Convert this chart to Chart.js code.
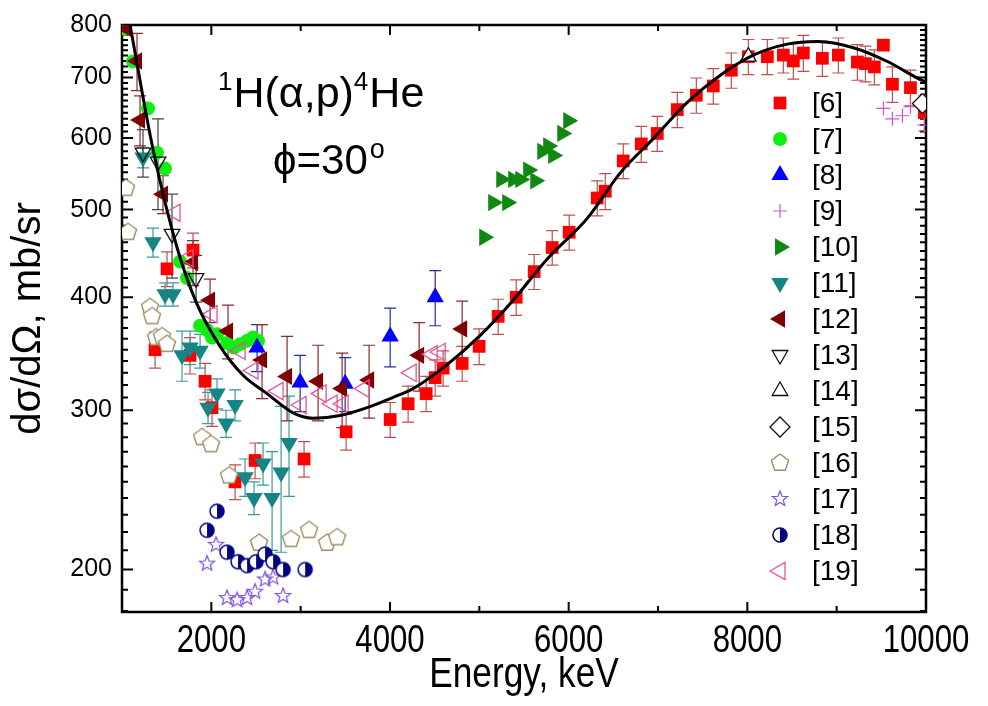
<!DOCTYPE html>
<html>
<head>
<meta charset="utf-8">
<script src="https://cdn.jsdelivr.net/npm/chart.js@4.4.0/dist/chart.umd.min.js"></script>
<style>
html, body { margin: 0; padding: 0; background: #fff; }
</style>
</head>
<body>
<canvas id="myChart" width="988" height="706"></canvas>
<script>
const ctx = document.getElementById('myChart')

// [6]
const x6 = [1370, 1504, 1762, 1795, 1930, 2008, 2266, 2490, 3038, 3509, 4002, 4203, 4405, 4506, 4595, 4808, 4998, 5211, 5413, 5614, 5816, 6006, 6320, 6410, 6611, 6813, 6992, 7216, 7429, 7619, 7821, 8011, 8224, 8403, 8515, 8627, 8840, 9019, 9232, 9322, 9422, 9523, 9624, 9826, 9982]
const y6 = [350, 430, 345, 451, 323, 302, 250, 264, 265, 284, 293, 305, 313, 326, 334, 338, 353, 381, 400, 427, 454, 472, 515, 524, 566, 591, 607, 645, 669, 685, 713, 738, 738, 741, 730, 745, 735, 741, 728, 725, 719, 760, 688, 682, 640]
const e6 = [16, 19, 16, 20, 15, 14, 11, 12, 12, 13, 13, 14, 14, 15, 15, 15, 16, 17, 18, 19, 20, 21, 23, 24, 25, 27, 27, 29, 30, 31, 32, 33, 33, 33, 33, 34, 33, 33, 33, 33, 32, 0, 31, 31, 29]
// [7]
const x7 = [1034, 1123, 1291, 1392, 1482, 1650, 1728, 1874, 1952, 2008, 2064, 2176, 2254, 2322, 2400, 2467, 2523]
const y7 = [792, 729, 647, 578, 555, 438, 420, 372, 368, 361, 364, 356, 352, 355, 358, 361, 358]
// [8]
const x8 = [2512, 2994, 3498, 4002, 4506]
const y8 = [352, 322, 321, 362, 400]
const e8 = [21, 23, 22, 27, 28]
// [9]
const x9 = [9523, 9624, 9736, 9826, 9982]
const y9 = [647, 630, 635, 650, 620]
// [10]
const x10 = [5054, 5155, 5245, 5312, 5379, 5458, 5547, 5626, 5704, 5771, 5827, 5928, 5995]
const y10 = [466, 509, 540, 509, 540, 540, 553, 538, 580, 588, 574, 607, 627]
// [11]
const x11 = [1235, 1347, 1482, 1571, 1672, 1762, 1874, 1963, 2064, 2165, 2266, 2378, 2478, 2579, 2680, 2781, 2870]
const y11 = [571, 460, 403, 403, 345, 352, 349, 302, 313, 290, 304, 253, 240, 262, 240, 256, 276]
const e11 = [15, 17, 12, 12, 22, 15, 15, 12, 12, 10, 12, 12, 10, 14, 30, 47, 35]
// [12]
const x12 = [1056, 1168, 1202, 1459, 1795, 1986, 2187, 2568, 2848, 3195, 3464, 3766, 4326, 4808]
const y12 = [792, 730, 628, 520, 437, 397, 367, 341, 327, 323, 317, 324, 345, 369]
const e12 = [0, 53, 40, 25, 25, 22, 25, 32, 35, 31, 30, 30, 30, 27]
// [13]
const x13 = [1235, 1403, 1560, 1829]
const y13 = [578, 565, 470, 420]
const e13 = [35, 65, 50, 25]
// [14]
const x14 = [8011]
const y14 = [738]
// [15]
const x15 = [9960]
const y15 = [655]
// [16]
const x16 = [1045, 1067, 1314, 1336, 1381, 1448, 1504, 1896, 1997, 2198, 2534, 2893, 3094, 3296, 3408]
const y16 = [528, 472, 390, 381, 361, 362, 355, 280, 275, 254, 214, 216, 221, 214, 217]
// [17]
const x17 = [1952, 2053, 2176, 2288, 2400, 2490, 2602, 2691, 2803]
const y17 = [203, 213, 186, 185, 186, 189, 195, 196, 187]
// [18]
const x18 = [1952, 2064, 2176, 2299, 2400, 2501, 2602, 2691, 2803, 3050]
const y18 = [221, 232, 209, 204, 202, 204, 208, 204, 200, 200]
// [19]
const x19 = [1594, 1739, 2008, 2322, 2467, 2747, 3005, 3229, 3352, 3475, 3710, 4237, 4472, 4562]
const y19 = [496, 442, 383, 349, 332, 315, 304, 313, 305, 305, 317, 330, 346, 348]
// fitted curve
const curveX = [1050, 1090, 1347, 1616, 1840, 2098, 2355, 2624, 2915, 3139, 3442, 3744, 4035, 4259, 4640, 5010, 5379, 5760, 6208, 6578, 6947, 7328, 7698, 8067, 8448, 8784, 9187, 9568, 9938, 10000]
const curveY = [840, 800, 583, 454, 393, 353, 328, 313, 298, 294, 296, 302, 310, 317, 337, 363, 397, 441, 489, 549, 599, 657, 704, 741, 762, 767, 755, 729, 696, 692]

const xTicks = [2000, 4000, 6000, 8000, 10000]
const xMinor = [3000, 5000, 7000, 9000]
const yTicks = [200, 300, 400, 500, 600, 700, 800]
const xTitle = 'Energy, keV'
const yTitle = 'd\u03c3/d\u03a9, mb/sr'
const reaction = ['1', 'H(\u03b1,p)', '4', 'He']
const angle = ['\u03d5=30', 'o']

const sans = "'Liberation Sans', Arial, sans-serif"

function pts(xs, ys) {
    return xs.map((v, i) => ({x: v, y: ys[i]}))
}

function glyph(size, draw) {
    const c = document.createElement('canvas')
    c.width = size
    c.height = size
    draw(c.getContext('2d'), size / 2)
    return c
}

const pentagon = glyph(24, (g, c) => {
    g.beginPath()
    for (let k = 0; k < 5; k++) {
        const a = -Math.PI / 2 + k * 2 * Math.PI / 5
        g.lineTo(c + 9 * Math.cos(a), c + 9 * Math.sin(a))
    }
    g.closePath()
    g.fillStyle = '#fff'
    g.fill()
    g.strokeStyle = '#9c9060'
    g.lineWidth = 1.4
    g.stroke()
})

const star = glyph(22, (g, c) => {
    g.beginPath()
    for (let k = 0; k < 10; k++) {
        const a = -Math.PI / 2 + k * Math.PI / 5
        const r = k % 2 ? 3.4 : 8
        g.lineTo(c + r * Math.cos(a), c + r * Math.sin(a))
    }
    g.closePath()
    g.strokeStyle = '#7f4fe0'
    g.lineWidth = 1.2
    g.stroke()
})

const halfCircle = glyph(20, (g, c) => {
    g.beginPath()
    g.arc(c, c, 7, 0, 2 * Math.PI)
    g.fillStyle = '#fff'
    g.fill()
    g.beginPath()
    g.arc(c, c, 7, -Math.PI / 2, Math.PI / 2)
    g.closePath()
    g.fillStyle = '#000080'
    g.fill()
    g.beginPath()
    g.arc(c, c, 7, 0, 2 * Math.PI)
    g.strokeStyle = '#000080'
    g.lineWidth = 1.5
    g.stroke()
})

function series(label, xs, ys, style) {
    return Object.assign({
        label: label,
        data: pts(xs, ys),
        showLine: false,
        pointRotation: 0,
        pointBorderWidth: 0
    }, style)
}

const datasets = [
    series('[6]', x6, y6, {errors: e6, errorColor: '#c0504d', pointStyle: 'rect', pointRadius: 9, pointBackgroundColor: '#ff0000', pointBorderColor: '#ff0000'}),
    series('[7]', x7, y7, {pointStyle: 'circle', pointRadius: 7, pointBackgroundColor: '#11ee11', pointBorderColor: '#11ee11'}),
    series('[8]', x8, y8, {errors: e8, errorColor: '#1f2f9f', pointStyle: 'triangle', pointRadius: 10, pointBackgroundColor: '#0000ff', pointBorderColor: '#0000ff'}),
    series('[9]', x9, y9, {pointStyle: 'cross', pointRadius: 7, pointBackgroundColor: '#cc55cc', pointBorderColor: '#cc55cc', pointBorderWidth: 1.2}),
    series('[10]', x10, y10, {pointStyle: 'triangle', pointRotation: 90, pointRadius: 10, pointBackgroundColor: '#118811', pointBorderColor: '#118811'}),
    series('[11]', x11, y11, {errors: e11, errorColor: '#3a9a9a', pointStyle: 'triangle', pointRotation: 180, pointRadius: 10, pointBackgroundColor: '#168585', pointBorderColor: '#168585'}),
    series('[12]', x12, y12, {errors: e12, errorColor: '#8b2a2a', pointStyle: 'triangle', pointRotation: 270, pointRadius: 10, pointBackgroundColor: '#800000', pointBorderColor: '#800000'}),
    series('[13]', x13, y13, {errors: e13, errorColor: '#444', pointStyle: 'triangle', pointRotation: 180, pointRadius: 9, pointBackgroundColor: 'rgba(255,255,255,0)', pointBorderColor: '#111', pointBorderWidth: 1.3}),
    series('[14]', x14, y14, {pointStyle: 'triangle', pointRadius: 9, pointBackgroundColor: '#fff', pointBorderColor: '#111', pointBorderWidth: 1.3}),
    series('[15]', x15, y15, {pointStyle: 'rectRot', pointRadius: 10, pointBackgroundColor: '#fff', pointBorderColor: '#111', pointBorderWidth: 1.3}),
    series('[16]', x16, y16, {pointStyle: pentagon, pointRadius: 9}),
    series('[17]', x17, y17, {pointStyle: star, pointRadius: 8}),
    series('[18]', x18, y18, {pointStyle: halfCircle, pointRadius: 7}),
    series('[19]', x19, y19, {pointStyle: 'triangle', pointRotation: 270, pointRadius: 10, pointBackgroundColor: 'rgba(255,255,255,0)', pointBorderColor: '#e0559b', pointBorderWidth: 1.3})
]
// later series are drawn above earlier ones
datasets.forEach((d, i) => { d.order = datasets.length - i })

datasets.push({
    type: 'line',
    label: 'fit',
    data: pts(curveX, curveY),
    borderColor: '#000',
    borderWidth: 3,
    pointRadius: 0,
    fill: false,
    cubicInterpolationMode: 'monotone',
    order: 0
})

const frame = {
    id: 'frame',
    beforeDatasetsDraw(chart) {
        const {ctx, chartArea: a, scales: {x, y}} = chart
        ctx.save()
        ctx.strokeStyle = '#000'
        ctx.lineWidth = 2
        ctx.beginPath()
        const tick = (px, len) => {
            ctx.moveTo(px, a.bottom); ctx.lineTo(px, a.bottom - len)
            ctx.moveTo(px, a.top); ctx.lineTo(px, a.top + len)
        }
        xTicks.forEach(v => tick(x.getPixelForValue(v), 10))
        xMinor.forEach(v => tick(x.getPixelForValue(v), 6))
        const ytick = (py, len) => {
            ctx.moveTo(a.left, py); ctx.lineTo(a.left + len, py)
            ctx.moveTo(a.right, py); ctx.lineTo(a.right - len, py)
        }
        for (let v = 180; v < 800; v += 10) {
            ytick(y.getPixelForValue(v), v % 100 === 0 ? 11 : 6)
        }
        ctx.stroke()
        ctx.lineWidth = 2.5
        ctx.strokeRect(a.left, a.top, a.right - a.left, a.bottom - a.top)

        // x tick labels and title, set in a condensed face
        ctx.fillStyle = '#000'
        ctx.textAlign = 'center'
        ctx.textBaseline = 'alphabetic'
        ctx.font = '38px ' + sans
        xTicks.forEach(v => {
            ctx.save()
            ctx.translate(x.getPixelForValue(v), 652)
            ctx.scale(0.82, 1)
            ctx.fillText(String(v), 0, 0)
            ctx.restore()
        })
        ctx.save()
        ctx.font = '42px ' + sans
        ctx.translate((a.left + a.right) / 2, 687)
        ctx.scale(0.84, 1)
        ctx.fillText(xTitle, 0, 0)
        ctx.restore()

        // error bars
        ctx.beginPath()
        ctx.rect(a.left, a.top, a.right - a.left, a.bottom - a.top)
        ctx.clip()
        ctx.lineWidth = 1.2
        chart.data.datasets.forEach(ds => {
            if (!ds.errors) return
            ctx.strokeStyle = ds.errorColor
            ctx.beginPath()
            ds.data.forEach((p, i) => {
                const e = ds.errors[i]
                if (!e) return
                const px = x.getPixelForValue(p.x)
                const top = y.getPixelForValue(p.y + e)
                const bot = y.getPixelForValue(p.y - e)
                ctx.moveTo(px, top); ctx.lineTo(px, bot)
                ctx.moveTo(px - 6, top); ctx.lineTo(px + 6, top)
                ctx.moveTo(px - 6, bot); ctx.lineTo(px + 6, bot)
            })
            ctx.stroke()
        })
        ctx.restore()
    }
}

function drawMarker(c, ds, px, py) {
    const style = {
        pointStyle: ds.pointStyle,
        radius: ds.pointRadius,
        rotation: ds.pointRotation || 0,
        borderWidth: ds.pointBorderWidth || 0
    }
    c.fillStyle = ds.pointBackgroundColor || '#000'
    c.strokeStyle = ds.pointBorderColor || '#000'
    c.lineWidth = ds.pointBorderWidth || 0
    Chart.helpers.drawPoint(c, style, px, py)
}

const annotations = {
    id: 'annotations',
    afterDatasetsDraw(chart) {
        const c = chart.ctx
        c.save()
        // legend
        c.font = '28px ' + sans
        c.textBaseline = 'middle'
        c.textAlign = 'left'
        chart.data.datasets.filter(d => d.label !== 'fit').forEach((ds, i) => {
            const py = 103 + i * 36
            drawMarker(c, ds, 780, py)
            c.fillStyle = '#000'
            c.fillText(ds.label, 812, py + 1)
        })
        // reaction and angle
        c.fillStyle = '#000'
        c.textBaseline = 'alphabetic'
        let px = 218
        reaction.forEach((t, i) => {
            const sup = i % 2 === 0
            c.font = (sup ? '26px ' : '43px ') + sans
            c.fillText(t, px, sup ? 90 : 107)
            px += c.measureText(t).width + (sup ? 1 : 0)
        })
        px = 273
        angle.forEach((t, i) => {
            c.font = (i ? '27px ' : '42px ') + sans
            c.fillText(t, px, i ? 158 : 174)
            px += c.measureText(t).width + 2
        })
        c.restore()
    }
}

const myChart = new Chart(ctx, {
    type: 'scatter',
    data: { datasets: datasets },
    options: {
        responsive: false,
        animation: false,
        devicePixelRatio: 1,
        events: [],
        layout: { autoPadding: false, padding: { top: 18, right: 62, left: 0, bottom: 0 } },
        plugins: { legend: { display: false }, tooltip: { enabled: false } },
        scales: {
            x: {
                type: 'linear',
                min: 1000,
                max: 10000,
                afterBuildTicks: s => { s.ticks = xTicks.map(v => ({value: v})) },
                afterFit: s => { s.height = 94 },
                grid: { display: false, drawTicks: false },
                border: { display: false },
                ticks: { display: false },
                title: { display: false }
            },
            y: {
                type: 'logarithmic',
                min: 179.5,
                max: 800,
                afterBuildTicks: s => { s.ticks = yTicks.map(v => ({value: v})) },
                afterFit: s => { s.width = 122 },
                grid: { display: false, drawTicks: false },
                border: { display: false },
                ticks: { color: '#000', padding: 10, autoSkip: false, font: { family: sans, size: 25 }, callback: v => String(v) },
                title: { display: true, text: yTitle, color: '#000', font: { family: sans, size: 40 }, padding: { top: 5, bottom: 0 } }
            }
        }
    },
    plugins: [frame, annotations]
})
</script>
</body>
</html>
